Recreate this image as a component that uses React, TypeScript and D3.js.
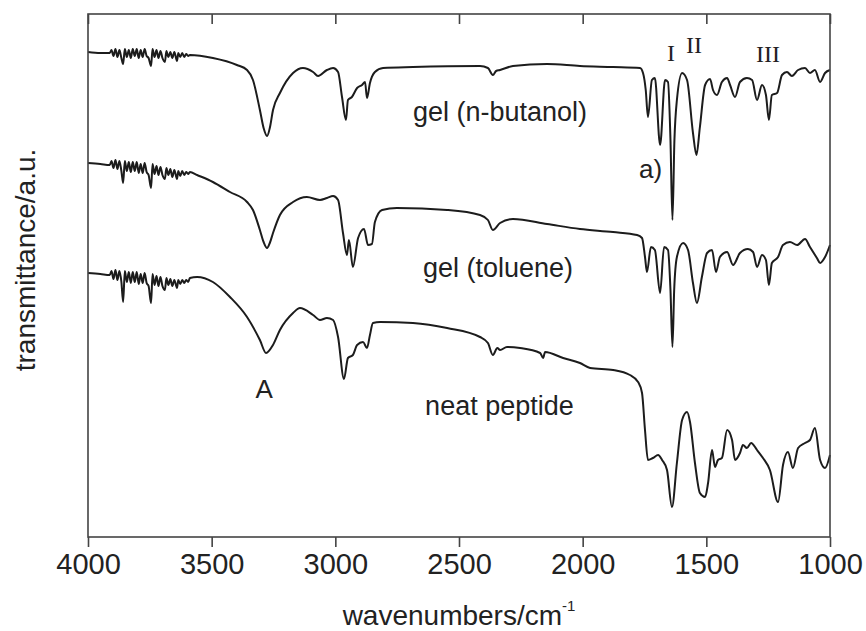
import { useEffect, useRef } from 'react'
import * as d3 from 'd3'

// FTIR spectra: [wavenumber (cm-1), transmittance (a.u.)]
const butanolSpectrum: [number, number][] = [
  [4000, 48.5], [3950, 48.4], [3912, 48.4],
  [3905, 48.7], [3897, 48.1], [3889, 48.8], [3881, 48.0], [3873, 48.7], [3865, 47.9],
  [3858, 47.3], [3851, 48.8], [3843, 48.0], [3835, 48.7], [3827, 47.9], [3819, 48.8],
  [3811, 48.1], [3803, 48.8], [3795, 47.9], [3787, 48.7], [3779, 48.0], [3771, 48.8],
  [3763, 48.1], [3755, 47.9], [3745, 47.1], [3739, 48.8], [3731, 48.0], [3723, 48.7],
  [3715, 47.9], [3707, 48.6], [3699, 47.9], [3689, 47.5], [3683, 48.6], [3675, 48.0],
  [3667, 48.5], [3659, 47.9], [3651, 48.5], [3640, 47.6], [3635, 48.4], [3627, 48.0],
  [3619, 48.4], [3611, 48.0], [3603, 48.3], [3595, 48.1],
  [3588, 48.2], [3495, 47.9], [3398, 47.2],
  [3357, 46.7], [3333, 45.7], [3305, 42.7], [3290, 40.9], [3276, 40.1], [3265, 40.9],
  [3252, 42.7], [3224, 44.4], [3171, 46.4], [3131, 46.9], [3090, 46.5], [3070, 46.1],
  [3034, 46.7], [3009, 46.9], [2989, 46.5], [2973, 44.0], [2957, 41.7], [2949, 43.7],
  [2933, 44.0], [2912, 44.9], [2892, 45.2], [2880, 45.5], [2872, 43.9], [2860, 45.4],
  [2840, 46.5], [2807, 46.9], [2686, 47.0], [2415, 47.1], [2383, 46.9], [2363, 46.2],
  [2350, 46.6], [2334, 46.7], [2282, 47.1], [2144, 47.3], [2011, 47.1], [1877, 47.0],
  [1768, 46.9], [1756, 46.4], [1745, 44.7], [1736, 42.0], [1720, 45.7], [1708, 45.9],
  [1687, 39.2], [1667, 45.7], [1655, 45.5], [1645, 39.7], [1637, 31.7], [1629, 39.7],
  [1619, 43.7], [1598, 46.4], [1578, 45.7], [1554, 40.4], [1540, 38.2], [1526, 41.0],
  [1505, 45.2], [1485, 45.8], [1473, 44.7], [1457, 44.2], [1437, 45.5], [1416, 45.9],
  [1404, 45.2], [1384, 44.0], [1364, 45.5], [1336, 45.9], [1315, 45.7], [1295, 43.7],
  [1275, 45.2], [1259, 44.2], [1247, 41.7], [1235, 44.2], [1214, 44.4], [1194, 46.2],
  [1174, 46.5], [1154, 46.1], [1129, 46.7], [1101, 46.9], [1081, 46.4], [1061, 46.7],
  [1040, 45.5], [1020, 46.4], [1000, 46.7],
]

const tolueneSpectrum: [number, number][] = [
  [4000, 37.4], [3950, 37.3], [3912, 37.2],
  [3905, 37.6], [3897, 36.9], [3889, 37.7], [3881, 36.8], [3873, 37.6], [3865, 36.6],
  [3858, 35.4], [3851, 37.6], [3843, 36.6], [3835, 37.5], [3827, 36.5], [3819, 37.5],
  [3811, 36.6], [3803, 37.5], [3795, 36.4], [3787, 37.3], [3779, 36.4], [3771, 37.4],
  [3763, 36.5], [3755, 36.2], [3745, 34.9], [3739, 37.3], [3731, 36.3], [3723, 37.1],
  [3715, 36.2], [3707, 37.0], [3699, 36.2], [3689, 35.8], [3683, 36.9], [3675, 36.2],
  [3667, 36.8], [3659, 36.0], [3651, 36.7], [3640, 35.8], [3635, 36.6], [3627, 36.1],
  [3619, 36.6], [3611, 36.2], [3603, 36.5], [3595, 36.3],
  [3588, 36.5], [3559, 36.2], [3495, 35.5],
  [3426, 34.5], [3357, 33.5], [3333, 32.7], [3305, 30.7], [3290, 29.5], [3276, 28.9],
  [3265, 29.4], [3252, 30.4], [3224, 32.2], [3171, 33.5], [3115, 34.0], [3062, 33.7],
  [3034, 33.9], [3009, 34.1], [2989, 33.7], [2969, 30.4], [2953, 28.2], [2945, 29.7],
  [2929, 27.0], [2908, 29.9], [2884, 30.8], [2868, 29.2], [2852, 29.3], [2840, 31.5],
  [2811, 32.7], [2751, 32.9], [2548, 32.7], [2415, 32.2], [2383, 31.7], [2363, 30.7],
  [2334, 31.4], [2282, 31.8], [2144, 31.3], [2011, 30.8], [1877, 30.5], [1780, 30.2],
  [1760, 29.9], [1748, 28.0], [1740, 26.5], [1724, 29.0], [1708, 28.7], [1687, 24.4],
  [1671, 29.0], [1655, 28.7], [1645, 24.7], [1637, 19.0], [1630, 24.7], [1619, 28.0],
  [1594, 29.4], [1574, 28.7], [1554, 25.4], [1538, 23.4], [1518, 26.0], [1497, 28.4],
  [1477, 28.7], [1461, 26.5], [1445, 28.0], [1416, 28.5], [1392, 27.2], [1364, 28.4],
  [1332, 28.8], [1311, 28.5], [1295, 27.0], [1275, 28.2], [1259, 27.7], [1247, 25.2],
  [1235, 27.4], [1210, 28.0], [1190, 29.2], [1162, 29.5], [1133, 29.2], [1101, 29.8],
  [1081, 29.0], [1053, 27.9], [1040, 27.4], [1020, 28.0], [1000, 29.2],
]

const peptideSpectrum: [number, number][] = [
  [4000, 26.4], [3950, 26.3], [3912, 26.2],
  [3905, 26.6], [3897, 25.8], [3889, 26.7], [3881, 25.7], [3873, 26.6], [3865, 25.5],
  [3858, 23.5], [3851, 26.6], [3843, 25.5], [3835, 26.5], [3827, 25.4], [3819, 26.5],
  [3811, 25.5], [3803, 26.5], [3795, 25.3], [3787, 26.3], [3779, 25.4], [3771, 26.4],
  [3763, 25.4], [3755, 25.1], [3745, 23.4], [3739, 26.3], [3731, 25.2], [3723, 26.1],
  [3715, 25.1], [3707, 26.0], [3699, 25.1], [3689, 24.7], [3683, 25.9], [3675, 25.2],
  [3667, 25.8], [3659, 25.1], [3651, 25.7], [3640, 24.9], [3635, 25.7], [3627, 25.3],
  [3619, 25.7], [3611, 25.4], [3603, 25.7], [3595, 25.5],
  [3588, 25.9], [3559, 26.0], [3495, 25.5],
  [3426, 24.0], [3357, 22.0], [3305, 19.7], [3280, 18.4], [3252, 19.2], [3224, 20.7],
  [3171, 22.4], [3143, 22.9], [3090, 22.2], [3062, 21.7], [3034, 21.9], [3009, 21.7],
  [2989, 20.0], [2965, 15.8], [2949, 17.9], [2929, 18.2], [2912, 19.2], [2888, 19.5],
  [2872, 18.9], [2860, 20.2], [2848, 21.4], [2819, 21.5], [2686, 21.4], [2548, 20.9],
  [2415, 20.0], [2383, 19.4], [2363, 18.2], [2345, 18.9], [2334, 18.7], [2306, 19.0],
  [2253, 18.9], [2172, 18.4], [2160, 17.9], [2152, 18.5], [2079, 17.9], [2011, 17.4],
  [1970, 16.9], [1877, 16.7], [1809, 16.2], [1776, 15.5], [1760, 14.4], [1748, 10.7],
  [1736, 7.7], [1716, 7.9], [1695, 8.2], [1679, 7.7], [1659, 6.7], [1639, 3.0],
  [1619, 7.4], [1598, 11.7], [1578, 12.5], [1566, 11.5], [1546, 7.4], [1526, 4.4],
  [1505, 4.0], [1493, 5.4], [1477, 8.7], [1465, 7.0], [1453, 7.7], [1437, 7.9],
  [1416, 10.7], [1396, 9.7], [1384, 7.7], [1364, 8.4], [1352, 9.2], [1336, 8.9],
  [1319, 9.4], [1295, 8.7], [1271, 7.9], [1243, 6.7], [1210, 3.5], [1190, 7.2],
  [1170, 8.5], [1150, 6.9], [1129, 8.9], [1101, 9.4], [1081, 9.7], [1061, 10.9],
  [1040, 7.7], [1020, 6.9], [1000, 8.2],
]

const wavenumberTicks = [4000, 3500, 3000, 2500, 2000, 1500, 1000]

// annotation text with anchor position in data units [wavenumber, transmittance]
const sampleLabels: [string, number, number][] = [
  ['gel (n-butanol)', 2686, 41.6],
  ['gel (toluene)', 2646, 26.0],
  ['neat peptide', 2637, 12.2],
]
const bandLabels: [string, number, number][] = [
  ['I', 1643, 47.6],
  ['II', 1550, 48.4],
  ['III', 1251, 47.5],
]
const peakLabels: [string, number, number][] = [
  ['A', 3288, 13.9],
  ['a)', 1772, 35.9],
]

function App() {
  const svgRef = useRef<SVGSVGElement>(null)

  useEffect(() => {
    if (!svgRef.current) return
    const svg = d3.select(svgRef.current)
    svg.selectAll('*').remove()

    const width = 866
    const height = 631
    const margin = { top: 14, right: 36, bottom: 94, left: 88 }
    const plotW = width - margin.left - margin.right
    const plotH = height - margin.top - margin.bottom

    const x = d3.scaleLinear().domain([4000, 1000]).range([0, plotW])
    const y = d3.scaleLinear().domain([0, 52.3]).range([plotH, 0])

    const g = svg.append('g')
      .attr('transform', `translate(${margin.left},${margin.top})`)

    const line = d3.line<[number, number]>()
      .x(d => x(d[0]))
      .y(d => y(d[1]))
      .curve(d3.curveMonotoneX)

    ;[butanolSpectrum, tolueneSpectrum, peptideSpectrum].forEach(series => {
      g.append('path')
        .datum(series)
        .attr('fill', 'none')
        .attr('stroke', '#1c1c1c')
        .attr('stroke-width', 2)
        .attr('stroke-linejoin', 'round')
        .attr('d', line)
    })

    // frame
    g.append('rect')
      .attr('width', plotW)
      .attr('height', plotH)
      .attr('fill', 'none')
      .attr('stroke', '#444')
      .attr('stroke-width', 1.6)

    // bottom axis, ticks outward
    const bottom = g.append('g')
      .attr('transform', `translate(0,${plotH})`)
      .call(d3.axisBottom(x).tickValues(wavenumberTicks).tickSize(10).tickPadding(6).tickFormat(d3.format('d')))
    bottom.select('.domain').remove()
    bottom.selectAll('line').attr('stroke', '#444').attr('stroke-width', 1.6)
    bottom.selectAll('text')
      .attr('fill', '#222')
      .style('font-family', '"Liberation Sans", Arial, sans-serif')
      .style('font-size', '29px')

    // top axis, ticks inward
    const top = g.append('g')
      .call(d3.axisTop(x).tickValues(wavenumberTicks).tickSize(-10).tickFormat(() => ''))
    top.select('.domain').remove()
    top.selectAll('line').attr('stroke', '#444').attr('stroke-width', 1.6)

    const sans = '"Liberation Sans", Arial, sans-serif'

    sampleLabels.forEach(([t, w, v]) => {
      g.append('text')
        .attr('x', x(w)).attr('y', y(v))
        .attr('fill', '#222')
        .style('font-family', sans)
        .style('font-size', '27px')
        .text(t)
    })

    peakLabels.forEach(([t, w, v], i) => {
      g.append('text')
        .attr('x', x(w)).attr('y', y(v))
        .attr('text-anchor', i === 0 ? 'middle' : 'start')
        .attr('fill', '#222')
        .style('font-family', sans)
        .style('font-size', '26px')
        .text(t)
    })

    bandLabels.forEach(([t, w, v]) => {
      g.append('text')
        .attr('x', x(w)).attr('y', y(v))
        .attr('text-anchor', 'middle')
        .attr('fill', '#222')
        .style('font-family', '"Liberation Serif", "Times New Roman", serif')
        .style('font-size', '24px')
        .text(t)
    })

    // axis titles
    const xTitle = svg.append('text')
      .attr('x', margin.left + plotW / 2)
      .attr('y', 625)
      .attr('text-anchor', 'middle')
      .attr('fill', '#222')
      .style('font-family', sans)
      .style('font-size', '28px')
    xTitle.append('tspan').text('wavenumbers/cm')
    xTitle.append('tspan').attr('dy', -14).style('font-size', '15px').text('-1')

    svg.append('text')
      .attr('transform', `translate(35,${margin.top + 246}) rotate(-90)`)
      .attr('text-anchor', 'middle')
      .attr('fill', '#222')
      .style('font-family', sans)
      .style('font-size', '28px')
      .text('transmittance/a.u.')
  }, [])

  return (
    <div style={{ position: 'absolute', left: 0, top: 0, width: 866, height: 631, background: '#fff' }}>
      <svg ref={svgRef} width={866} height={631}></svg>
    </div>
  )
}

export default App
